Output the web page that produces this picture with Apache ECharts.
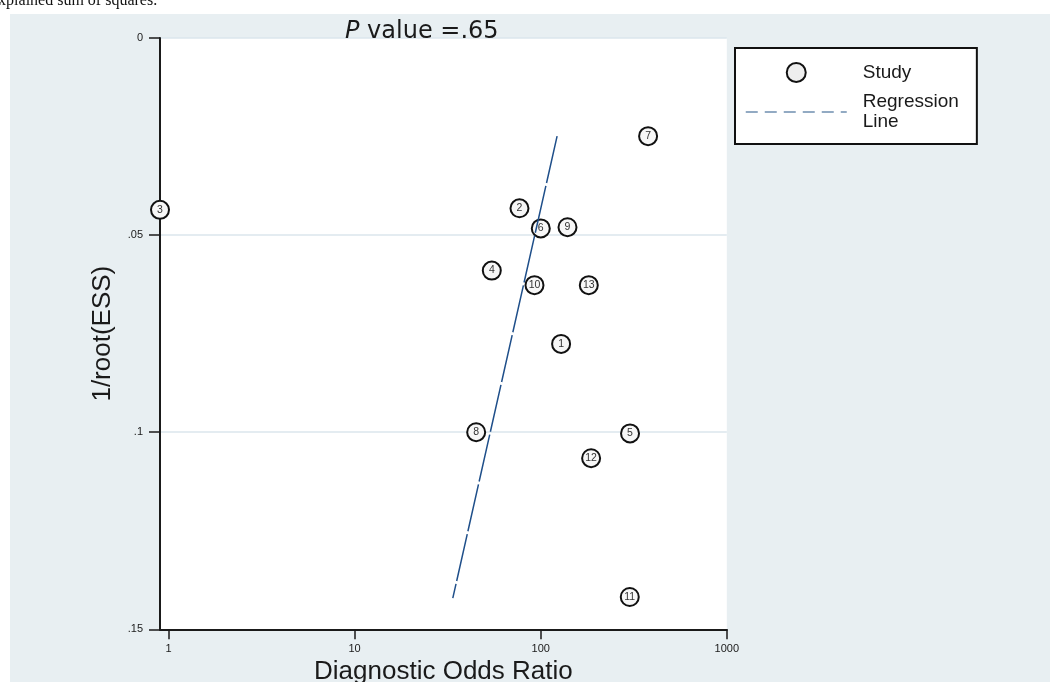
<!DOCTYPE html>
<html>
<head>
<meta charset="utf-8">
<script src="https://cdn.jsdelivr.net/npm/echarts@6/dist/echarts.min.js"></script>
<style>
html,body{margin:0;padding:0;background:#fff;}
#chart{width:1050px;height:682px;}
</style>
</head>
<body>
<div id="chart"></div>
<script>
// Study labels and values
const studyIds = ['1','2','3','4','5','6','7','8','9','10','11','12','13'];
const diagnosticOddsRatio = [128.7, 76.9, 0.9, 54.6, 302, 100.1, 377.6, 45.0, 139.3, 92.6, 301, 186.6, 181.3];
const invRootESS = [0.0776, 0.0432, 0.0436, 0.0590, 0.1003, 0.0483, 0.0249, 0.1000, 0.0480, 0.0627, 0.1418, 0.1066, 0.0627];
// Regression line end points
const regressionDOR = [122.5, 33.7];
const regressionY = [0.0249, 0.1421];
// Axis ticks
const xTickValues = [1, 10, 100, 1000];
const yTickValues = [0, 0.05, 0.1, 0.15];

const chart = echarts.init(document.getElementById('chart'), null, {renderer: 'canvas'});

const scatterData = studyIds.map((id, i) => ({name: id, value: [diagnosticOddsRatio[i], invRootESS[i]]}));
const lineData = regressionDOR.map((d, i) => [d, regressionY[i]]);

const option = {
  animation: false,
  backgroundColor: 'transparent',
  graphic: [
    {type: 'rect', z: -100, silent: true, shape: {x: 10, y: 14, width: 1040, height: 668}, style: {fill: '#e8eff2'}},
    {type: 'text', z: -90, left: -9, top: -7, style: {text: 'explained sum of squares.', font: '16px "Liberation Serif"', fill: '#111'}}
  ],
  title: {
    text: '{i|P} value =.65',
    left: 345,
    top: 20,
    padding: 0,
    textStyle: {
      fontFamily: 'DejaVu Sans', fontSize: 24, fontWeight: 'normal', color: '#1a1a1a',
      rich: {i: {fontFamily: 'DejaVu Sans', fontSize: 24, fontStyle: 'italic', color: '#1a1a1a'}}
    }
  },
  legend: {
    left: 735,
    top: 48,
    orient: 'vertical',
    backgroundColor: '#fff',
    borderColor: '#111',
    borderWidth: 2,
    borderRadius: 0,
    padding: [14, 18, 12, 10],
    itemGap: 9,
    itemWidth: 101,
    itemHeight: 19,
    textStyle: {fontFamily: 'Liberation Sans', fontSize: 19, lineHeight: 20, color: '#1a1a1a', padding: [0, 0, 0, 11]},
    data: [
      {name: 'Study', icon: 'circle', itemStyle: {color: '#eeeeee', borderColor: '#111', borderWidth: 2}},
      {name: 'Regression\nLine',
       itemStyle: {color: 'rgba(0,0,0,0)', borderColor: 'rgba(0,0,0,0)', borderWidth: 0, opacity: 0},
       lineStyle: {type: [12, 7], width: 1.5, color: '#6f8fb0'}}
    ]
  },
  grid: {
    left: 160, top: 38, width: 566.8, height: 591.3,
    show: true, backgroundColor: '#fff', borderWidth: 0,
    containLabel: false, outerBoundsMode: 'none'
  },
  xAxis: {
    type: 'log',
    logBase: 10,
    min: 0.9,
    max: 1000,
    name: 'Diagnostic Odds Ratio',
    nameLocation: 'middle',
    nameGap: 28,
    nameTextStyle: {fontFamily: 'Liberation Sans', fontSize: 26, color: '#1a1a1a'},
    axisLine: {show: true, onZero: false, lineStyle: {color: '#1a1a1a', width: 2}},
    axisTick: {show: true, length: 10, lineStyle: {color: '#1a1a1a', width: 1.5}, customValues: xTickValues},
    axisLabel: {fontFamily: 'Liberation Sans', fontSize: 11, color: '#1a1a1a', margin: 14, customValues: xTickValues,
      formatter: v => String(Math.round(v))},
    splitLine: {show: false},
    minorTick: {show: false}
  },
  yAxis: {
    type: 'value',
    inverse: true,
    min: 0,
    max: 0.15,
    interval: 0.05,
    name: '1/root(ESS)',
    nameLocation: 'middle',
    nameGap: 44,
    nameRotate: 90,
    nameTextStyle: {fontFamily: 'Liberation Sans', fontSize: 26, color: '#1a1a1a'},
    axisLine: {show: true, onZero: false, lineStyle: {color: '#1a1a1a', width: 2}},
    axisTick: {show: true, length: 11, lineStyle: {color: '#1a1a1a', width: 1.5}},
    axisLabel: {fontFamily: 'Liberation Sans', fontSize: 11, color: '#1a1a1a', margin: 17,
      formatter: v => { const s = String(+(+v).toFixed(2)); return s === '0' ? '0' : s.replace(/^0\./, '.'); }},
    splitLine: {show: true, lineStyle: {color: '#dbe6ec', width: 1.5}}
  },
  series: [
    {
      name: 'Study',
      type: 'scatter',
      z: 2,
      symbol: 'circle',
      symbolSize: 18,
      data: scatterData,
      itemStyle: {color: '#f7f7f7', borderColor: '#111', borderWidth: 2, opacity: 1},
      label: {show: true, position: 'inside', formatter: '{b}', fontFamily: 'Liberation Sans', fontSize: 10.5, color: '#333'},
      emphasis: {disabled: true}
    },
    {
      name: 'Regression\nLine',
      type: 'line',
      z: 3,
      symbol: 'none',
      data: lineData,
      lineStyle: {color: '#1f4f8a', width: 1.5, type: [48, 3]},
      emphasis: {disabled: true}
    }
  ]
};
chart.setOption(option);
</script>
</body>
</html>
